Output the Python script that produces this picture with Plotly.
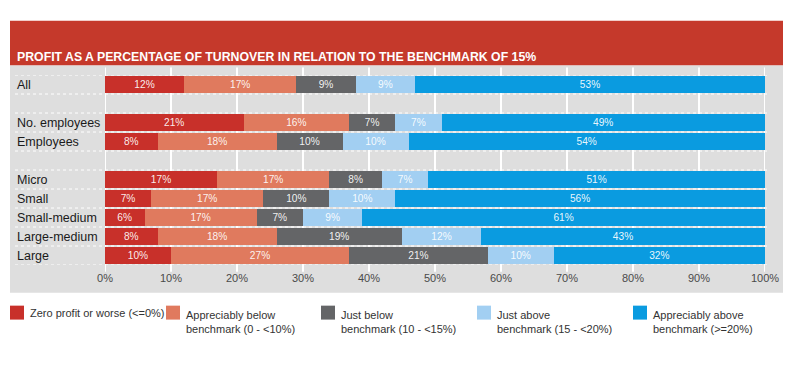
import plotly.graph_objects as go

# ---- data ----
categories = ["All", "gap1", "No. employees", "Employees", "gap2",
              "Micro", "Small", "Small-medium", "Large-medium", "Large"]
rows = ["All", "No. employees", "Employees", "Micro", "Small",
        "Small-medium", "Large-medium", "Large"]
series_names = ["Zero profit or worse (&lt;=0%)",
                "Appreciably below<br>benchmark (0 - &lt;10%)",
                "Just below<br>benchmark (10 - &lt;15%)",
                "Just above<br>benchmark (15 - &lt;20%)",
                "Appreciably above<br>benchmark (&gt;=20%)"]
zero_or_worse = [12, 21, 8, 17, 7, 6, 8, 10]
appreciably_below = [17, 16, 18, 17, 17, 17, 18, 27]
just_below = [9, 7, 10, 8, 10, 7, 19, 21]
just_above = [9, 7, 10, 7, 10, 9, 12, 10]
appreciably_above = [53, 49, 54, 51, 56, 61, 43, 32]
tick_values = [0, 10, 20, 30, 40, 50, 60, 70, 80, 90, 100]
tick_labels = ["0%", "10%", "20%", "30%", "40%", "50%", "60%", "70%", "80%", "90%", "100%"]
title_text = "PROFIT AS A PERCENTAGE OF TURNOVER IN RELATION TO THE BENCHMARK OF 15%"

series_values = [zero_or_worse, appreciably_below, just_below, just_above, appreciably_above]
colors = ["#c8302a", "#e07a5e", "#646567", "#a2cff2", "#0a9be0"]

W, H = 800, 366
PL, PR = 105, 765          # plot area x extent in px
PT, PB = 74.5, 265.2       # plot area y extent in px
pw, ph = PR - PL, PB - PT

def xp(px):
    return (px - PL) / pw

def yp(py):
    return (PB - py) / ph

FONT = "Liberation Sans, Arial"

fig = go.Figure()
for name, vals, col in zip(series_names, series_values, colors):
    fig.add_trace(go.Bar(
        y=rows, x=vals, orientation="h", name=name,
        marker=dict(color=col, line=dict(width=0)),
        text=[f"{v}%" for v in vals], textposition="inside",
        insidetextanchor="middle", textangle=0,
        textfont=dict(color="rgba(255,255,255,0.92)", size=11, family=FONT),
        hoverinfo="skip", showlegend=False,
    ))

shapes = []
# banner
shapes.append(dict(type="rect", xref="paper", yref="paper", x0=xp(10), x1=xp(783),
                   y0=yp(65), y1=yp(20), fillcolor="#c5392b", line=dict(width=0), layer="below"))
# gray panel
shapes.append(dict(type="rect", xref="paper", yref="paper", x0=xp(10), x1=xp(783),
                   y0=yp(293), y1=yp(65), fillcolor="#dedede", line=dict(width=0), layer="below"))
# vertical gridlines
for tv in tick_values:
    shapes.append(dict(type="line", xref="x", yref="paper", x0=tv, x1=tv,
                       y0=yp(272), y1=yp(67), line=dict(color="white", width=2), layer="below"))
# dotted row separators
bounds = set()
for r in rows:
    i = categories.index(r)
    bounds.add(i - 0.5)
    bounds.add(i + 0.5)
for b in sorted(bounds):
    shapes.append(dict(type="line", xref="paper", yref="y", x0=xp(15), x1=xp(767),
                       y0=b, y1=b, line=dict(color="white", width=1, dash="dot"), layer="below"))

annotations = []
annotations.append(dict(text=f"<b>{title_text}</b>", xref="paper", yref="paper",
                        x=xp(15), y=yp(56.5), xanchor="left", yanchor="middle", showarrow=False,
                        font=dict(color="white", size=12.3, family=FONT)))
for r in rows:
    annotations.append(dict(text=r, xref="paper", yref="y", x=xp(15), y=r,
                            xanchor="left", yanchor="middle", showarrow=False,
                            font=dict(color="#1a1a1a", size=12.5, family=FONT)))

# legend (manual)
leg_x = [10, 166, 321, 477, 633]
for lx, name, col in zip(leg_x, series_names, colors):
    shapes.append(dict(type="rect", xref="paper", yref="paper", x0=xp(lx), x1=xp(lx + 14),
                       y0=yp(320), y1=yp(306), fillcolor=col, line=dict(width=0)))
    if "<br>" in name:
        annotations.append(dict(text=name, xref="paper", yref="paper", x=xp(lx + 18), y=yp(307),
                                xanchor="left", yanchor="top", align="left", showarrow=False,
                                font=dict(color="#333333", size=11, family=FONT)))
    else:
        annotations.append(dict(text=name, xref="paper", yref="paper", x=xp(lx + 18), y=yp(313),
                                xanchor="left", yanchor="middle", align="left", showarrow=False,
                                font=dict(color="#333333", size=11, family=FONT)))

fig.update_layout(
    width=W, height=H, barmode="stack", bargap=0.1,
    margin=dict(l=PL, r=W - PR, t=PT, b=H - PB, pad=0),
    paper_bgcolor="white", plot_bgcolor="rgba(0,0,0,0)",
    shapes=shapes, annotations=annotations,
    xaxis=dict(range=[0, 100], tickvals=tick_values, ticktext=tick_labels,
               showgrid=False, zeroline=False, showline=False, ticks="",
               ticklabelstandoff=5,
               tickfont=dict(color="#4a4a4a", size=11, family=FONT),
               fixedrange=True),
    yaxis=dict(categoryorder="array", categoryarray=categories, type="category",
               range=[len(categories) - 0.5, -0.5], showticklabels=False,
               showgrid=False, zeroline=False, showline=False, fixedrange=True),
    font=dict(family=FONT),
)

fig.write_html("out.html", config={"displayModeBar": False},
               post_script="document.body.style.margin='0';")
